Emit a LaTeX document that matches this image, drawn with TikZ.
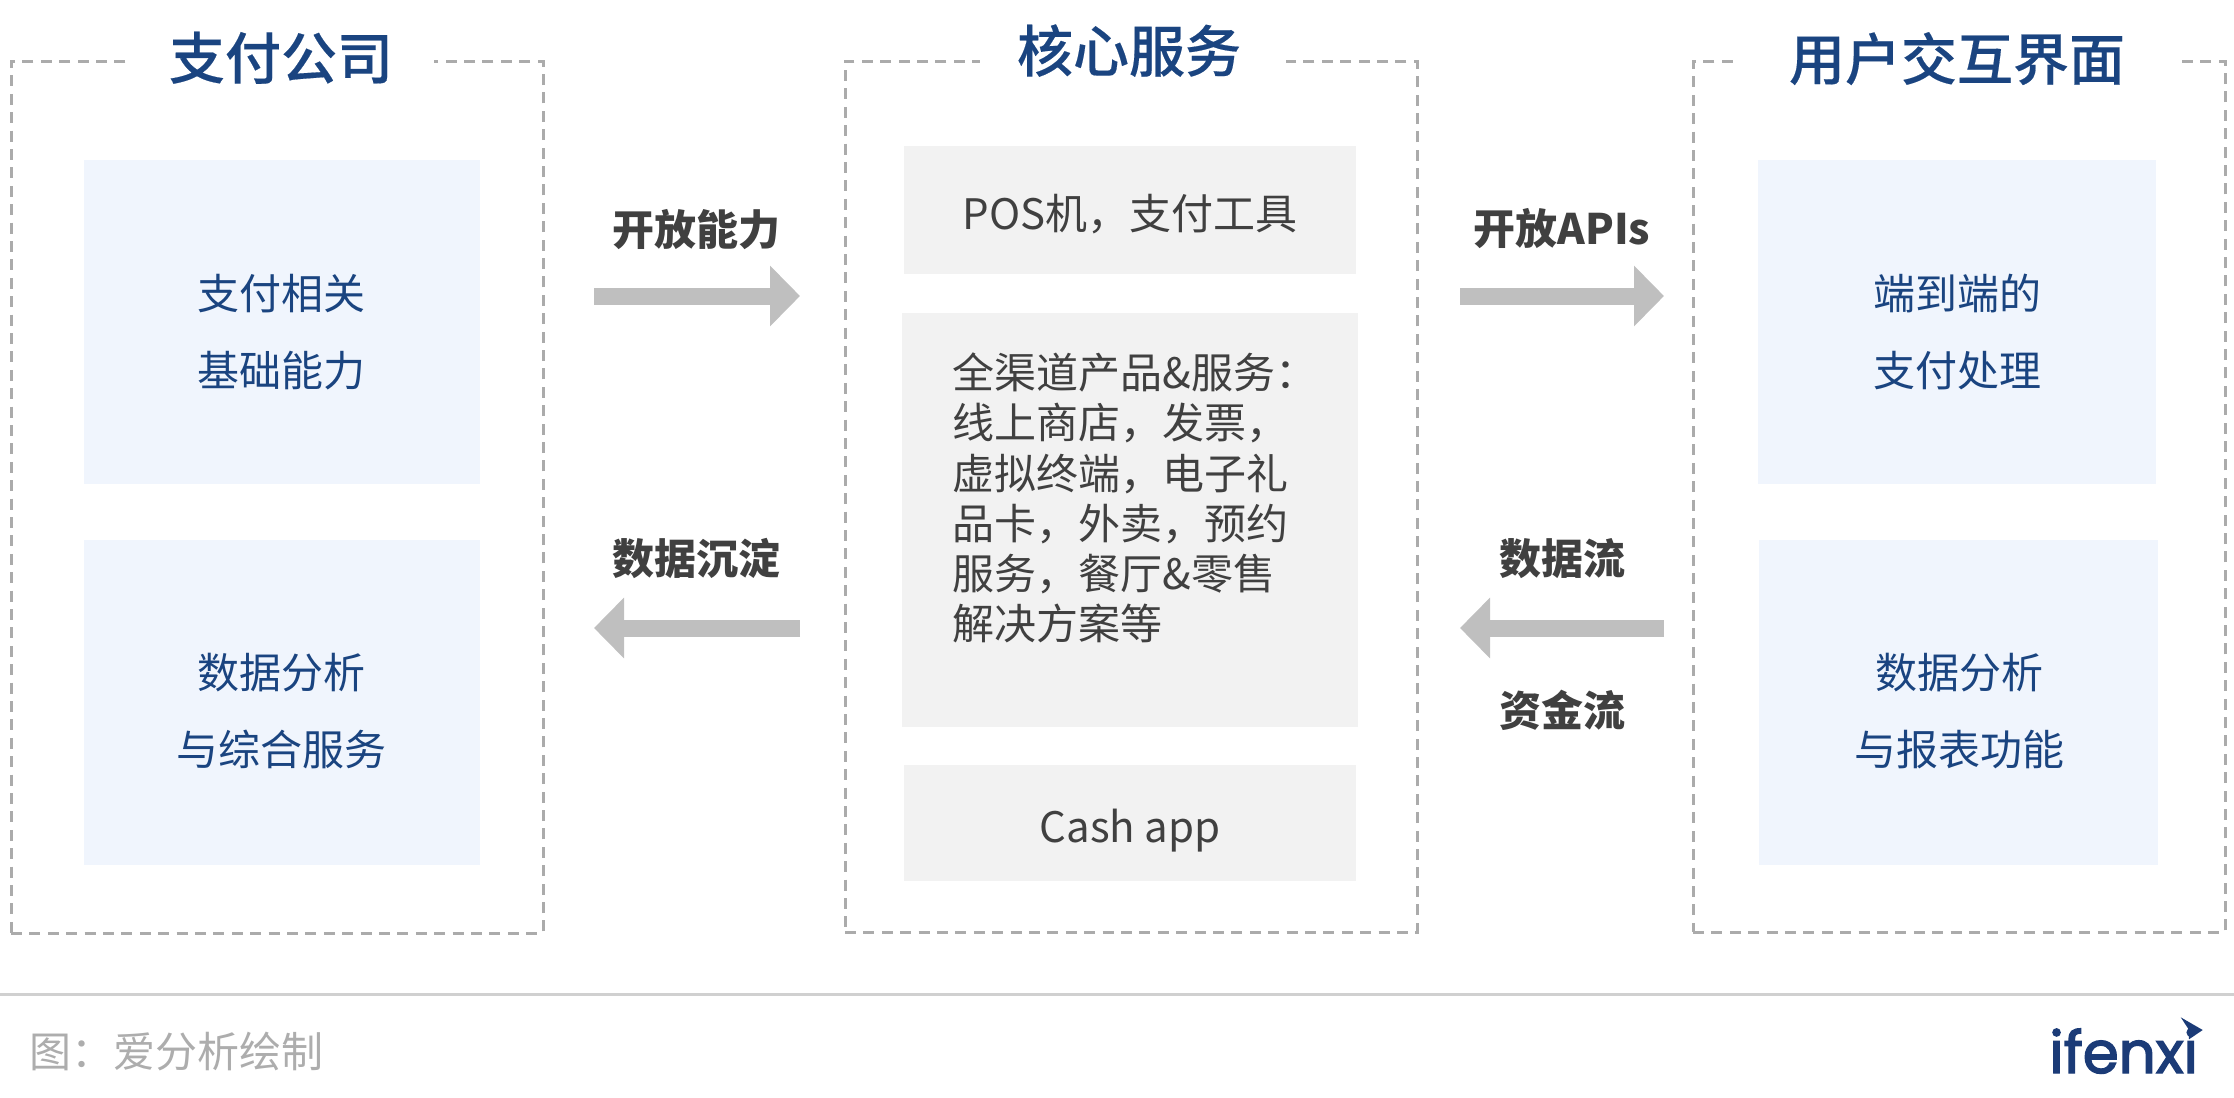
\documentclass[tikz,border=0pt]{standalone}
\usepackage{fontspec}
\setmainfont{Noto Sans CJK SC}
\newfontfamily\headfont[FakeBold=0.3]{Noto Sans CJK SC Medium}
\newfontfamily\logofont[FakeBold=2.5]{Poppins}
\usetikzlibrary{arrows.meta}
\definecolor{navy}{HTML}{1A4480}
\definecolor{ink}{HTML}{404040}
\definecolor{palebg}{HTML}{F0F5FD}
\definecolor{greybg}{HTML}{F2F2F2}
\definecolor{dashgrey}{HTML}{ABABAB}
\definecolor{arrgrey}{HTML}{BFBFBF}
\definecolor{footgrey}{HTML}{ADADAD}
\definecolor{rulegrey}{HTML}{D0D0D0}
\definecolor{logoblue}{HTML}{1B3B77}

\begin{document}
\begin{tikzpicture}[
  x=0.5pt, y=-0.5pt,
  frame/.style={draw=dashgrey, line width=1.5pt, dash pattern=on 5.5pt off 3.7pt, inner sep=0pt, outer sep=0pt},
  panel/.style={inner sep=0pt, outer sep=0pt},
  bluebox/.style={panel, fill=palebg},
  greybox/.style={panel, fill=greybg},
  head/.style={fill=white, inner sep=0pt, text=navy, text height=20pt, text depth=6pt, font=\fontsize{28pt}{30pt}\selectfont\headfont},
  bluetxt/.style={align=center, inner sep=0pt, text=navy, font=\fontsize{21pt}{38.5pt}\selectfont},
  greytxt/.style={inner sep=0pt, text=ink, font=\fontsize{21pt}{25pt}\selectfont},
  lab/.style={inner sep=0pt, text=ink, font=\fontsize{21pt}{25pt}\selectfont\bfseries},
  arr/.style={draw=arrgrey, line width=8.5pt, -{Triangle[length=15pt,width=29.5pt,fill=arrgrey]}},
  tailL/.style={shorten <=25.5pt, shorten >=22.5pt}
]
\useasboundingbox (0,0) rectangle (2234,1098);

\node[frame, minimum width=266pt, minimum height=436pt] (pay) at (277,497) {};
\node[frame, minimum width=286pt, minimum height=435.5pt] (core) at (1131,496.5) {};
\node[frame, minimum width=266pt, minimum height=435.5pt] (user) at (1959,496.5) {};

\node[head, minimum width=153pt] (payHead) at (281,65) {支付公司};
\node[head, minimum width=153pt] (coreHead) at (1133,58) {核心服务\kern4pt};
\node[head, minimum width=219pt] (userHead) at (1957,66) {用户交互界面};

\node[bluebox, minimum width=198pt, minimum height=162pt] (payBase) at (282,322) {};
\node[bluebox, minimum width=198pt, minimum height=162.5pt] (payData) at (282,702.5) {};
\node[bluebox, minimum width=199pt, minimum height=162pt] (userPay) at (1957,322) {};
\node[bluebox, minimum width=199.5pt, minimum height=162.5pt] (userData) at (1958.5,702.5) {};
\node[greybox, minimum width=226pt, minimum height=64pt] (corePos) at (1130,210) {};
\node[greybox, minimum width=228pt, minimum height=207pt] (coreAll) at (1130,519.5) {};
\node[greybox, minimum width=226pt, minimum height=58pt] (coreCash) at (1130,823) {};

\node[bluetxt] (payBaseTxt) at (281,332) {支付相关\\基础能力};
\node[bluetxt] (payDataTxt) at (281,711) {数据分析\\与综合服务};
\node[bluetxt] (userPayTxt) at (1957.5,332) {端到端的\\支付处理};
\node[bluetxt] (userDataTxt) at (1959,711) {数据分析\\与报表功能};
\node[greytxt] (corePosTxt) at (1130,214) {POS机，支付工具};
\node[greytxt, anchor=north west, align=left, font=\fontsize{21pt}{25.1pt}\selectfont] (coreAllTxt) at (952.5,352.5) {全渠道产品\&服务：\\线上商店，发票，\\虚拟终端，电子礼\\品卡，外卖，预约\\服务，餐厅\&零售\\解决方案等};
\node[greytxt] (coreCashTxt) at (1130,831) {Cash app};

\coordinate (upper) at (0,296);
\coordinate (lower) at (0,628);
\draw[arr, tailL] (pay.east |- upper) -- (core.west |- upper);
\draw[arr, shorten <=21.5pt, shorten >=14.5pt] (core.east |- upper) -- (user.west |- upper);
\draw[arr, shorten <=22.5pt, shorten >=25.5pt] (core.west |- lower) -- (pay.east |- lower);
\draw[arr, shorten <=14.5pt, shorten >=21.5pt] (user.west |- lower) -- (core.east |- lower);

\node[lab] (openCap) at (696,230) {开放能力};
\node[lab] (openApi) at (1562,229) {开放APIs};
\node[lab] (dataDep) at (696,558) {数据沉淀};
\node[lab] (dataFlow) at (1562,559) {数据流};
\node[lab] (cashFlow) at (1562,710) {资金流};

\draw[rulegrey, line width=1.5pt] (0,994) coordinate (ruleL) -- (2234,994) coordinate (ruleR);
\node[inner sep=0pt, anchor=west, text=footgrey, font=\fontsize{21pt}{25pt}\selectfont] (source) at (29,1052) {图：爱分析绘制};
\node[inner sep=0pt, anchor=base west, text=logoblue, font=\fontsize{29pt}{30pt}\selectfont\logofont] (logo) at (2049,1073) {ifenxi};
\fill[logoblue] (2180.7,1017.3) -- (2202.7,1030) -- (2189,1039.3) -- (2188,1028.3) -- cycle;
\end{tikzpicture}
\end{document}
